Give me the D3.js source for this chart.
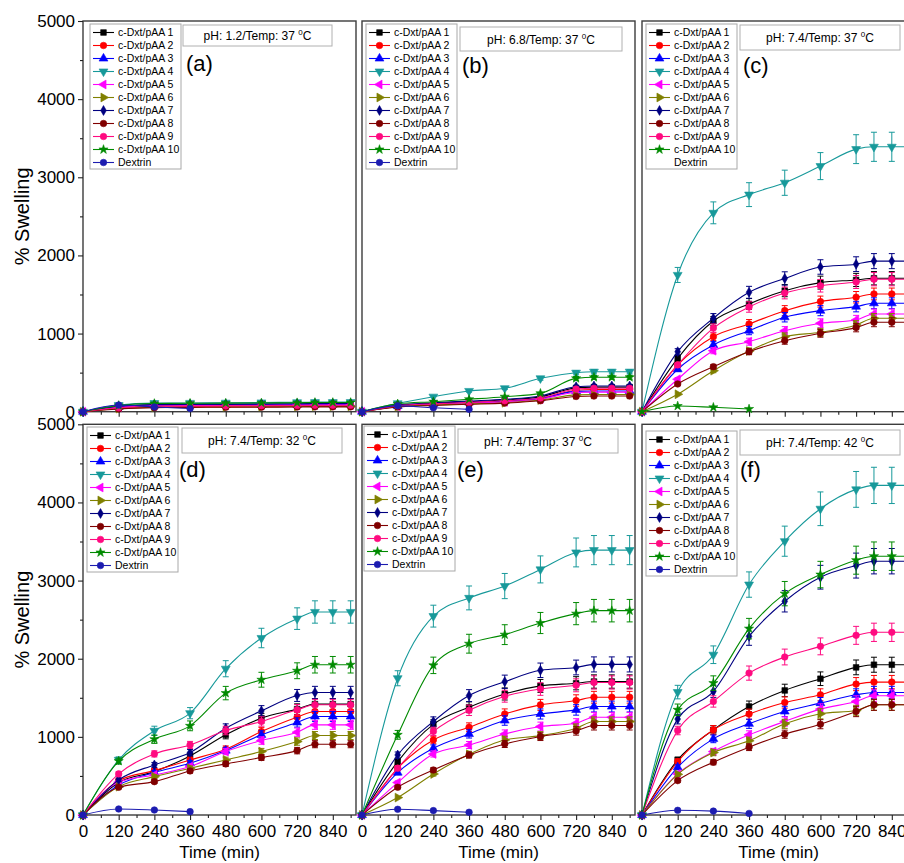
<!DOCTYPE html>
<html>
<head>
<meta charset="utf-8">
<script src="https://cdn.jsdelivr.net/npm/d3@7"></script>
<style>
  body { margin: 0; background: #fff; }
  svg { display: block; }
  text { font-family: "Liberation Sans", Arial, sans-serif; fill: #000; }
</style>
</head>
<body>
<svg id="chart" width="904" height="863"></svg>
<script>
// ---- data ----
const times = [0, 120, 240, 360, 480, 600, 720, 780, 840, 900];
const xTicks = [0, 120, 240, 360, 480, 600, 720, 840];
const xMinor = [60, 180, 300, 420, 540, 660, 780, 900];
const yTicks = [0, 1000, 2000, 3000, 4000, 5000];
const yMinor = [500, 1500, 2500, 3500, 4500];

const names = ["c-Dxt/pAA 1", "c-Dxt/pAA 2", "c-Dxt/pAA 3", "c-Dxt/pAA 4", "c-Dxt/pAA 5",
  "c-Dxt/pAA 6", "c-Dxt/pAA 7", "c-Dxt/pAA 8", "c-Dxt/pAA 9", "c-Dxt/pAA 10", "Dextrin"];
const colors = ["#000000", "#ff0000", "#0000ff", "#17999a", "#ff00ff",
  "#808000", "#000080", "#800000", "#ff0a80", "#008a00", "#1c1cb0"];
const shapes = ["square", "circle", "up", "down", "left", "right", "diamond", "circle", "circle", "star", "circle"];
// relative size of the error bars
const errFrac = [0.05, 0.05, 0.05, 0.055, 0.05, 0.05, 0.05, 0.05, 0.05, 0.055, 0];

// pH 1.2 / 37 C
const swellA = [
  [0, 65, 85, 88, 90, 92, 95, 97, 97, 97],
  [0, 45, 62, 65, 68, 70, 72, 74, 74, 74],
  [0, 60, 80, 84, 86, 88, 90, 92, 92, 92],
  [0, 85, 110, 112, 115, 118, 120, 122, 122, 122],
  [0, 55, 75, 78, 80, 82, 85, 86, 86, 86],
  [0, 40, 58, 60, 62, 64, 66, 68, 68, 68],
  [0, 70, 90, 95, 98, 100, 102, 104, 104, 104],
  [0, 35, 52, 55, 57, 58, 60, 62, 62, 62],
  [0, 50, 70, 72, 75, 77, 80, 82, 82, 82],
  [0, 80, 105, 108, 110, 112, 115, 118, 118, 118],
  [0, 85, 60, 40]
];
// pH 6.8 / 37 C
const swellB = [
  [0, 80, 108, 128, 150, 190, 305, 315, 315, 315],
  [0, 70, 95, 112, 130, 165, 275, 285, 285, 285],
  [0, 72, 98, 118, 135, 170, 260, 265, 265, 265],
  [0, 107, 192, 265, 300, 427, 499, 512, 512, 512],
  [0, 68, 90, 108, 125, 160, 245, 250, 250, 250],
  [0, 65, 85, 100, 115, 150, 215, 220, 220, 220],
  [0, 86, 115, 137, 159, 201, 320, 329, 329, 329],
  [0, 60, 80, 95, 110, 140, 195, 200, 200, 200],
  [0, 75, 100, 120, 140, 175, 290, 300, 300, 300],
  [0, 100, 128, 159, 192, 235, 427, 440, 440, 440],
  [0, 75, 50, 30]
];
// pH 7.4 / 37 C (panel c: series 10 carries the dextrin points, Dextrin is empty)
const swellC = [
  [0, 683, 1160, 1379, 1549, 1652, 1686, 1708, 1708, 1708],
  [0, 598, 960, 1123, 1293, 1409, 1465, 1507, 1507, 1507],
  [0, 543, 854, 1037, 1209, 1293, 1345, 1388, 1388, 1388],
  [0, 1750, 2545, 2778, 2930, 3143, 3360, 3390, 3390, 3390],
  [0, 415, 781, 896, 1037, 1132, 1174, 1251, 1251, 1251],
  [0, 223, 525, 777, 960, 1016, 1110, 1196, 1196, 1196],
  [0, 768, 1196, 1528, 1705, 1852, 1888, 1927, 1927, 1927],
  [0, 355, 576, 768, 909, 1003, 1076, 1145, 1145, 1145],
  [0, 598, 1070, 1340, 1520, 1612, 1660, 1696, 1696, 1696],
  [0, 73, 56, 35],
  []
];
// pH 7.4 / 32 C
const swellD = [
  [0, 415, 555, 756, 1026, 1239, 1355, 1419, 1419, 1419],
  [0, 440, 568, 705, 842, 1068, 1252, 1325, 1325, 1325],
  [0, 385, 543, 662, 824, 1026, 1184, 1261, 1261, 1261],
  [0, 705, 1077, 1303, 1872, 2265, 2513, 2598, 2598, 2598],
  [0, 420, 513, 620, 812, 953, 1060, 1154, 1154, 1154],
  [0, 363, 491, 598, 705, 812, 940, 1017, 1017, 1017],
  [0, 450, 641, 799, 1111, 1333, 1530, 1568, 1568, 1568],
  [0, 355, 427, 564, 654, 735, 824, 906, 906, 906],
  [0, 526, 782, 897, 1081, 1197, 1346, 1410, 1410, 1410],
  [0, 690, 970, 1141, 1560, 1731, 1846, 1923, 1923, 1923],
  [0, 77, 64, 43]
];
// pH 7.4 / 37 C
const swellE = [
  [0, 683, 1160, 1379, 1549, 1652, 1686, 1708, 1708, 1708],
  [0, 598, 960, 1123, 1293, 1409, 1465, 1507, 1507, 1507],
  [0, 543, 854, 1037, 1209, 1293, 1345, 1388, 1388, 1388],
  [0, 1750, 2545, 2778, 2930, 3143, 3360, 3390, 3390, 3390],
  [0, 415, 781, 896, 1037, 1132, 1174, 1251, 1251, 1251],
  [0, 223, 525, 777, 960, 1016, 1110, 1196, 1196, 1196],
  [0, 768, 1196, 1528, 1705, 1852, 1888, 1927, 1927, 1927],
  [0, 355, 576, 768, 909, 1003, 1076, 1145, 1145, 1145],
  [0, 598, 1070, 1340, 1520, 1612, 1660, 1696, 1696, 1696],
  [0, 1026, 1915, 2192, 2308, 2457, 2577, 2615, 2615, 2615],
  [0, 73, 56, 35]
];
// pH 7.4 / 42 C
const swellF = [
  [0, 705, 1090, 1389, 1594, 1744, 1889, 1923, 1923, 1923],
  [0, 684, 1090, 1291, 1440, 1538, 1675, 1701, 1701, 1701],
  [0, 611, 974, 1167, 1325, 1432, 1538, 1568, 1568, 1568],
  [0, 1573, 2051, 2949, 3504, 3919, 4167, 4218, 4218, 4218],
  [0, 526, 812, 1026, 1197, 1355, 1453, 1526, 1526, 1526],
  [0, 520, 799, 949, 1167, 1295, 1337, 1410, 1410, 1410],
  [0, 1227, 1581, 2286, 2735, 3043, 3192, 3248, 3248, 3248],
  [0, 440, 676, 868, 1034, 1162, 1325, 1410, 1410, 1410],
  [0, 1081, 1453, 1816, 2022, 2158, 2299, 2338, 2338, 2338],
  [0, 1346, 1688, 2385, 2833, 3077, 3261, 3312, 3312, 3312],
  [0, 60, 50, 20]
];

const phLabels = ["1.2", "6.8", "7.4", "7.4", "7.4", "7.4"];
const tempLabels = ["37", "37", "37", "32", "37", "42"];
const tags = ["(a)", "(b)", "(c)", "(d)", "(e)", "(f)"];

// ---- layout ----
const W = 273, H = 390.7;
const panels = [
  { data: swellA, left: 83,  top: 21,  legend: [90, 24],   box: [183, 25, 149, 21], tag: [186, 71], yAxis: true,  xLabels: false },
  { data: swellB, left: 362, top: 21,  legend: [366, 24],  box: [460, 27, 162, 24], tag: [462, 73], yAxis: false, xLabels: false },
  { data: swellC, left: 642, top: 21,  legend: [646, 24],  box: [740, 25, 160, 25], tag: [743, 73], yAxis: false, xLabels: false },
  { data: swellD, left: 83,  top: 424.3, legend: [87, 427], box: [182, 428, 160, 25], tag: [179, 477], yAxis: true,  xLabels: true },
  { data: swellE, left: 362, top: 424.3, legend: [364, 426], box: [458, 429, 160, 24], tag: [457, 477], yAxis: false, xLabels: true },
  { data: swellF, left: 642, top: 424.3, legend: [646, 431], box: [740, 430, 160, 25], tag: [740, 477], yAxis: false, xLabels: true }
];

const svg = d3.select("#chart");
const x = d3.scaleLinear().domain([0, 918]).range([0, W]);
const y = d3.scaleLinear().domain([0, 5000]).range([H, 0]);

function symbolPath(shape, size) {
  const types = {
    square: d3.symbolSquare, circle: d3.symbolCircle, up: d3.symbolTriangle,
    down: d3.symbolTriangle, left: d3.symbolTriangle, right: d3.symbolTriangle,
    diamond: d3.symbolDiamond, star: d3.symbolStar
  };
  return d3.symbol().type(types[shape]).size(size)();
}
const rot = { down: 180, left: -90, right: 90 };
const symSize = { square: 32, circle: 34, up: 34, down: 34, left: 34, right: 34, diamond: 28, star: 26 };

function marker(sel, i, cx, cy) {
  const sh = shapes[i];
  sel.append("path")
    .attr("d", symbolPath(sh, symSize[sh]))
    .attr("transform", `translate(${cx},${cy}) rotate(${rot[sh] || 0})`)
    .attr("fill", colors[i])
    .attr("stroke", colors[i])
    .attr("stroke-width", 0.6);
}

const line = d3.line()
  .x(d => x(d[0]))
  .y(d => y(d[1]))
  .curve(d3.curveMonotoneX);

panels.forEach((p, pi) => {
  const g = svg.append("g").attr("transform", `translate(${p.left},${p.top})`);

  g.append("rect").attr("width", W).attr("height", H)
    .attr("fill", "#fff").attr("stroke", "#3c3c3c").attr("stroke-width", 1.4);

  // x axis ticks
  const xg = g.append("g").attr("transform", `translate(0,${H})`);
  xg.call(d3.axisBottom(x).tickValues(xTicks).tickSize(5).tickPadding(5)
    .tickFormat(p.xLabels ? d3.format("d") : ""));
  xg.append("g").call(d3.axisBottom(x).tickValues(xMinor).tickSize(3).tickFormat(""));
  xg.selectAll(".domain").remove();
  xg.selectAll("line").attr("stroke", "#222").attr("stroke-width", 1.1);
  xg.selectAll("text").attr("font-size", 17).attr("font-family", "Liberation Sans, Arial, sans-serif").attr("fill", "#000");

  if (p.yAxis) {
    const yg = g.append("g");
    yg.call(d3.axisLeft(y).tickValues(yTicks).tickSize(5).tickPadding(3).tickFormat(d3.format("d")));
    yg.append("g").call(d3.axisLeft(y).tickValues(yMinor).tickSize(3).tickFormat(""));
    yg.selectAll(".domain").remove();
    yg.selectAll("line").attr("stroke", "#222").attr("stroke-width", 1.1);
    yg.selectAll("text").attr("font-size", 17).attr("font-family", "Liberation Sans, Arial, sans-serif").attr("fill", "#000");
    svg.append("text")
      .attr("transform", `translate(29,${p.top + H / 2}) rotate(-90)`)
      .attr("text-anchor", "middle").attr("font-size", 20)
      .text("% Swelling");
  }
  if (p.xLabels) {
    svg.append("text")
      .attr("x", p.left + W / 2).attr("y", 858)
      .attr("text-anchor", "middle").attr("font-size", 17)
      .text("Time (min)");
  }

  // series: lines, error bars, markers
  p.data.forEach((vals, i) => {
    if (!vals.length) return;
    const pts = vals.map((v, k) => [times[k], v]);
    g.append("path").attr("d", line(pts))
      .attr("fill", "none").attr("stroke", colors[i]).attr("stroke-width", 1.1);
    const eg = g.append("g").attr("stroke", colors[i]).attr("stroke-width", 1);
    pts.forEach(([t, v]) => {
      const e = v * errFrac[i];
      if (y(v - e) - y(v + e) < 2) return;
      const cx = x(t);
      eg.append("line").attr("x1", cx).attr("x2", cx).attr("y1", y(v - e)).attr("y2", y(v + e));
      eg.append("line").attr("x1", cx - 3).attr("x2", cx + 3).attr("y1", y(v - e)).attr("y2", y(v - e));
      eg.append("line").attr("x1", cx - 3).attr("x2", cx + 3).attr("y1", y(v + e)).attr("y2", y(v + e));
    });
    const mg = g.append("g");
    pts.forEach(([t, v]) => marker(mg, i, x(t), y(v)));
  });

  // legend
  const [lx, ly] = p.legend;
  const lg = svg.append("g").attr("transform", `translate(${lx},${ly})`);
  lg.append("rect").attr("width", 91).attr("height", 145)
    .attr("fill", "#fff").attr("stroke", "#a8a8a8").attr("stroke-width", 1);
  names.forEach((n, i) => {
    const ry = 8.5 + i * 13;
    if (p.data[i].length) {
      lg.append("line").attr("x1", 3).attr("x2", 24).attr("y1", ry).attr("y2", ry)
        .attr("stroke", colors[i]).attr("stroke-width", 1.1);
      marker(lg, i, 13.5, ry);
    }
    lg.append("text").attr("x", 28).attr("y", ry + 3.8)
      .attr("font-size", 10.5).text(n);
  });

  // condition box
  const [bx, by, bw, bh] = p.box;
  svg.append("rect").attr("x", bx).attr("y", by).attr("width", bw).attr("height", bh)
    .attr("fill", "#fff").attr("stroke", "#b0b0b0").attr("stroke-width", 1);
  const t = svg.append("text").attr("x", bx + bw / 2).attr("y", by + bh / 2 + 4.5)
    .attr("text-anchor", "middle").attr("font-size", 12);
  t.append("tspan").text(`pH: ${phLabels[pi]}/Temp: ${tempLabels[pi]} `);
  t.append("tspan").attr("font-size", 8).attr("dy", -5).text("0");
  t.append("tspan").attr("dy", 5).text("C");

  // panel tag
  svg.append("text").attr("x", p.tag[0]).attr("y", p.tag[1])
    .attr("font-size", 22).text(tags[pi]);
});
</script>
</body>
</html>
